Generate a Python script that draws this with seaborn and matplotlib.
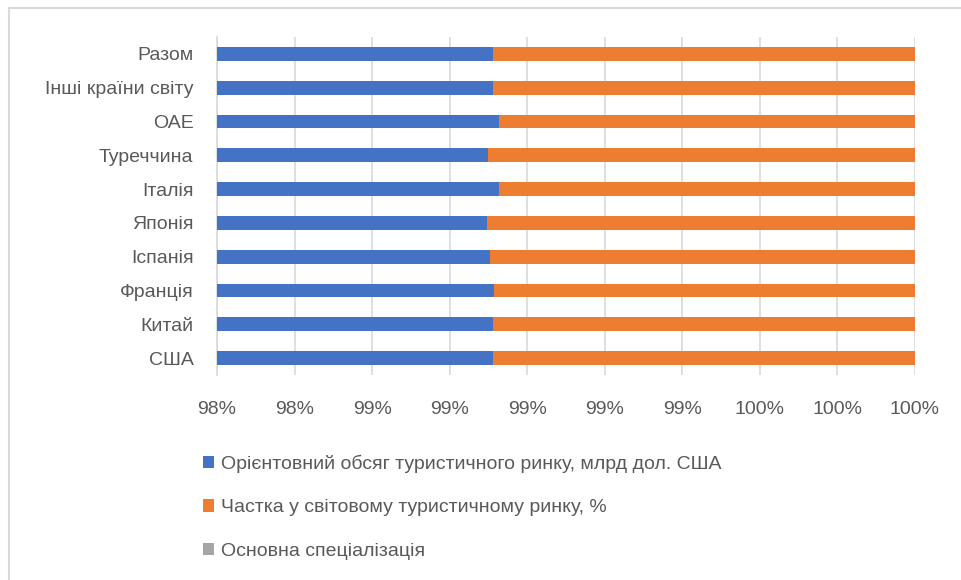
import matplotlib
matplotlib.use("Agg")
import matplotlib.pyplot as plt
from matplotlib.patches import Patch
from matplotlib.lines import Line2D
from matplotlib.ticker import FixedLocator, FuncFormatter
import seaborn as sns
import pandas as pd

# share of each series in a 100% stacked bar
countries = ["Разом", "Інші країни світу", "ОАЕ", "Туреччина", "Італія",
             "Японія", "Іспанія", "Франція", "Китай", "США"]
volume_pct = [98.912, 98.912, 98.928, 98.899, 98.928,
              98.895, 98.905, 98.915, 98.912, 98.912]
specialization_pct = [0, 0, 0, 0, 0, 0, 0, 0, 0, 0]
share_pct = [100 - v - s for v, s in zip(volume_pct, specialization_pct)]

series_names = ["Орієнтовний обсяг туристичного ринку, млрд дол. США",
                "Частка у світовому туристичному ринку, %",
                "Основна спеціалізація"]
colors = ["#4472C4", "#ED7D31", "#A5A5A5"]

x_ticks = [98.2, 98.4, 98.6, 98.8, 99.0, 99.2, 99.4, 99.6, 99.8, 100.0]

df = pd.DataFrame({"country": countries, "vol": volume_pct,
                   "share": share_pct, "spec": specialization_pct})
df["cum_vol"] = df["vol"]
df["cum_share"] = df["vol"] + df["share"]
df["cum_spec"] = df["cum_share"] + df["spec"]

sns.set_style("white")
plt.rcParams["font.family"] = ["Liberation Sans", "DejaVu Sans"]
fs = 14

fig = plt.figure(figsize=(9.61, 5.8), dpi=100)
ax = fig.add_axes([217 / 961, 1 - 375 / 580, (915 - 217) / 961, (375 - 37) / 580])

# stack from the top layer down so each shorter bar is drawn over the longer one
for col, c in zip(["cum_spec", "cum_share", "cum_vol"], colors[::-1]):
    sns.barplot(data=df, x=col, y="country", color=c, orient="h",
                width=0.41, ax=ax, saturation=1, linewidth=0, zorder=3)

ax.set_xlim(x_ticks[0], x_ticks[-1])
ax.xaxis.set_major_locator(FixedLocator(x_ticks))
ax.xaxis.set_major_formatter(FuncFormatter(lambda v, p: f"{v:.0f}%"))
ax.grid(axis="x", color="#D9D9D9", linewidth=1.2, zorder=0)
ax.set_axisbelow(True)
for s in ["top", "right", "bottom"]:
    ax.spines[s].set_visible(False)
ax.spines["left"].set_color("#D9D9D9")
ax.spines["left"].set_linewidth(1.2)
ax.set_xlabel("")
ax.set_ylabel("")
ax.tick_params(axis="both", length=0, labelsize=fs, labelcolor="#595959")
ax.tick_params(axis="x", pad=19)
ax.tick_params(axis="y", pad=17)

handles = [Patch(facecolor=c, edgecolor="none") for c in colors]
fig.legend(handles, series_names, loc="upper left",
           bbox_to_anchor=(195 / 961, 1 - 447 / 580), frameon=False,
           fontsize=fs, labelcolor="#595959", handlelength=0.6,
           handleheight=0.6, handletextpad=0.35, labelspacing=1.35,
           borderaxespad=0)

# outer chart frame (only the top and left edges are inside the picture)
fig.add_artist(Line2D([9 / 961, 9 / 961], [0, 1 - 8 / 580],
                      transform=fig.transFigure, color="#D9D9D9", linewidth=1.5))
fig.add_artist(Line2D([9 / 961, 1], [1 - 8 / 580, 1 - 8 / 580],
                      transform=fig.transFigure, color="#D9D9D9", linewidth=1.5))

fig.savefig("out.png", dpi=100)
